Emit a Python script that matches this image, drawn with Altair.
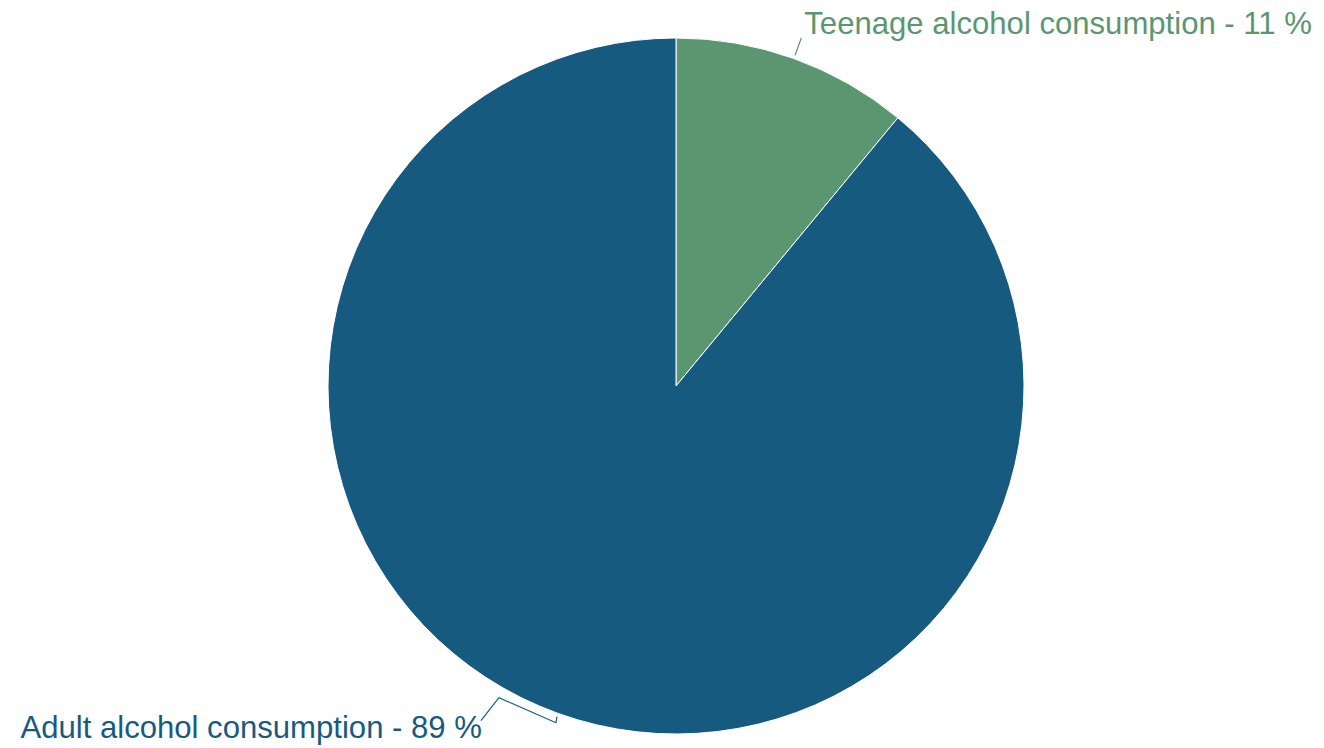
import math
import altair as alt
import pandas as pd

# ---- data ----
categories = ["Teenage alcohol consumption", "Adult alcohol consumption"]
values = [11, 89]
colors = ["#5a9670", "#175a80"]

# ---- layout ----
W, H = 1308, 740
CX, CY, R = 668, 378, 348
FONT = "Liberation Sans"
FS = 31.1

total = sum(values)
mids = []
acc = 0
for v in values:
    mids.append((acc + v / 2) / total * 2 * math.pi)
    acc += v

labels = [f"{c} - {v} %" for c, v in zip(categories, values)]

pie_df = pd.DataFrame({"category": categories, "value": values,
                       "order": list(range(len(values)))})


def polar(a, r):
    return math.sin(a) * r, math.cos(a) * r


def off(p, dx, dy):
    # pixel offset (dy positive = down) in unit coordinates
    return p[0] + dx / R, p[1] - dy / R


# leader lines (unit coordinates, y up), derived from slice mid-angles
t0 = polar(mids[0], 1.01)
t1 = polar(mids[0], 1.063)
a0 = polar(mids[1], 1.01)
a1 = off(a0, -1, 6)
a2 = off(a0, -58, -19)
a3 = off(a0, -76, 4)

line_rows = []
for i, p in enumerate([t0, t1]):
    line_rows.append({"category": categories[0], "seq": i, "ux": p[0], "uy": p[1]})
for i, p in enumerate([a0, a1, a2, a3]):
    line_rows.append({"category": categories[1], "seq": i, "ux": p[0], "uy": p[1]})
lines_df = pd.DataFrame(line_rows)

tl = off(t1, 3, -4)
al = off(a0, -75, 21)
text_df = pd.DataFrame({
    "category": categories,
    "label": labels,
    "ux": [tl[0], al[0]],
    "uy": [tl[1], al[1]],
    "side": ["left", "right"],
})

xs = alt.Scale(domain=[-CX / R, (W - CX) / R], range=[0, W], nice=False, zero=False)
ys = alt.Scale(domain=[-(H - CY) / R, CY / R], range=[H, 0], nice=False, zero=False)
cs = alt.Scale(domain=categories, range=colors)

pie = alt.Chart(pie_df).mark_arc(outerRadius=R, stroke="white", strokeWidth=1).encode(
    theta=alt.Theta("value:Q", stack=True),
    color=alt.Color("category:N", scale=cs, legend=None),
    order=alt.Order("order:Q"),
    x=alt.value(CX),
    y=alt.value(CY),
)

leaders = alt.Chart(lines_df).mark_line(strokeWidth=1.2).encode(
    x=alt.X("ux:Q", scale=xs, axis=None),
    y=alt.Y("uy:Q", scale=ys, axis=None),
    color=alt.Color("category:N", scale=cs, legend=None),
    detail="category:N",
    order="seq:Q",
)

text_left = alt.Chart(text_df).transform_filter(alt.datum.side == "left").mark_text(
    align="left", baseline="alphabetic", font=FONT, fontSize=FS
).encode(
    x=alt.X("ux:Q", scale=xs, axis=None),
    y=alt.Y("uy:Q", scale=ys, axis=None),
    text="label:N",
    color=alt.Color("category:N", scale=cs, legend=None),
)

text_right = alt.Chart(text_df).transform_filter(alt.datum.side == "right").mark_text(
    align="right", baseline="alphabetic", font=FONT, fontSize=FS
).encode(
    x=alt.X("ux:Q", scale=xs, axis=None),
    y=alt.Y("uy:Q", scale=ys, axis=None),
    text="label:N",
    color=alt.Color("category:N", scale=cs, legend=None),
)

chart = alt.layer(pie, leaders, text_left, text_right).properties(
    width=W, height=H, padding=0, autosize=alt.AutoSizeParams(type="none"),
    background="white",
).configure_view(stroke=None)

chart.save("out.html", embed_options={"renderer": "svg", "actions": False})
